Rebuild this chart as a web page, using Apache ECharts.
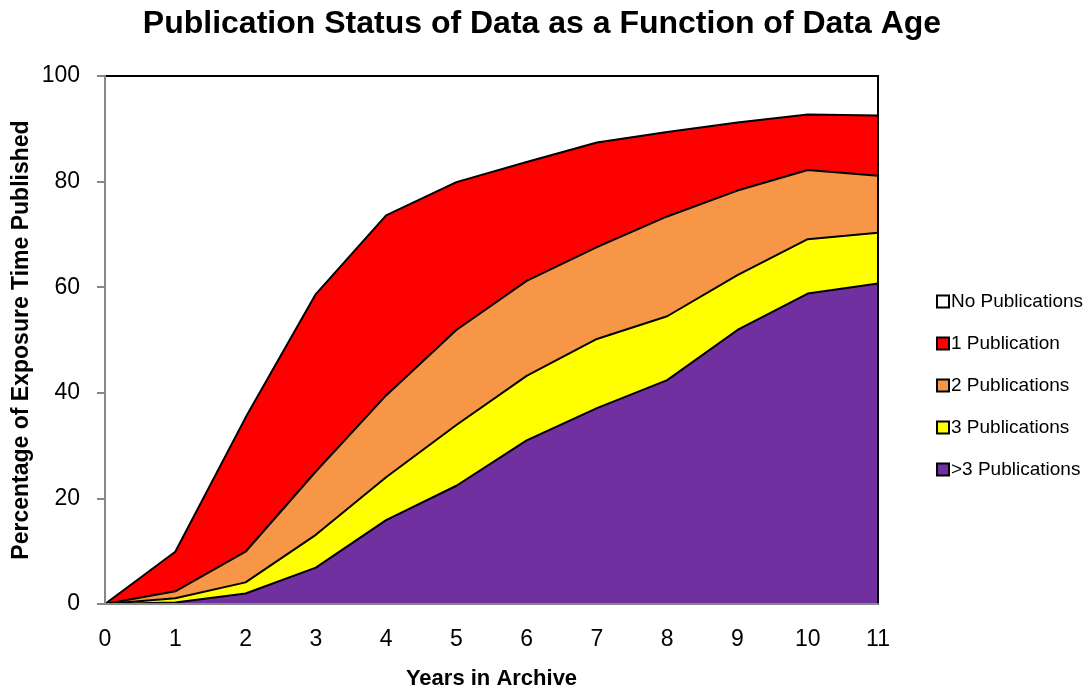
<!DOCTYPE html>
<html>
<head>
<meta charset="utf-8">
<script src="https://cdn.jsdelivr.net/npm/echarts@6/dist/echarts.min.js"></script>
<style>
html,body{margin:0;padding:0;background:#fff;}
#chart{width:1089px;height:688px;}
</style>
</head>
<body>
<div id="chart"></div>
<script>
var years = ['0','1','2','3','4','5','6','7','8','9','10','11'];
var moreThan3 = [0, 0.3, 2.0, 6.9, 15.9, 22.4, 31.0, 37.1, 42.4, 51.9, 58.8, 60.7];
var three     = [0, 0.8, 2.1, 6.2, 8.1, 11.5, 12.2, 13.1, 12.1, 10.4, 10.3, 9.6];
var two       = [0, 1.3, 5.8, 12.0, 15.5, 18.0, 18.0, 17.4, 18.9, 16.0, 13.1, 10.8];
var one       = [0, 7.5, 25.4, 33.6, 34.1, 28.0, 22.5, 19.8, 16.0, 12.9, 10.5, 11.4];
var none      = [100, 90.1, 64.7, 41.3, 26.4, 20.1, 16.3, 12.6, 10.6, 8.8, 7.3, 7.5];
var seriesNames = ['>3 Publications','3 Publications','2 Publications','1 Publication','No Publications'];
var legendOrder = ['No Publications','1 Publication','2 Publications','3 Publications','>3 Publications'];
var seriesColors = ['#7030A0','#FFFF00','#F79646','#FF0000','#FFFFFF'];
var seriesValues = [moreThan3, three, two, one, none];

var FONT = 'Liberation Sans';

var series = seriesValues.map(function(vals, i){
  var isNone = i === 4;
  return {
    name: seriesNames[i],
    type: 'line',
    stack: 'total',
    data: vals,
    symbol: 'none',
    showSymbol: false,
    smooth: false,
    z: 8 - i,
    lineStyle: { color: '#000', width: isNone ? 0 : 2, join: 'round' },
    areaStyle: { color: seriesColors[i], opacity: 1 },
    itemStyle: { color: seriesColors[i], borderColor: '#000', borderWidth: 1.5 }
  };
});

var chart = echarts.init(document.getElementById('chart'), null, {renderer:'canvas'});
chart.setOption({
  animation: false,
  backgroundColor: '#fff',
  title: {
    text: 'Publication Status of Data as a Function of Data Age',
    left: 537, top: 3, textAlign: 'center',
    textStyle: { fontFamily: FONT, fontWeight: 'bold', fontSize: 32, color: '#000' }
  },
  grid: {
    left: 105, right: 211, top: 76, bottom: 84,
    outerBoundsMode: 'none', containLabel: false,
    show: true, borderColor: '#000', borderWidth: 2, backgroundColor: 'transparent', z: 10
  },
  legend: {
    orient: 'vertical',
    left: 931, top: 287,
    data: legendOrder,
    icon: 'rect',
    itemWidth: 12, itemHeight: 12,
    itemGap: 23,
    textStyle: { fontFamily: FONT, fontSize: 19, color: '#000', padding: [0,0,0,-3] }
  },
  xAxis: {
    type: 'category', data: years, boundaryGap: false,
    name: 'Years in Archive', nameLocation: 'middle', nameGap: 64,
    nameTextStyle: { fontFamily: FONT, fontWeight: 'bold', fontSize: 22, color: '#000' },
    axisLine: { show: true, onZero: false, lineStyle: { color: '#888', width: 2 } },
    axisTick: { show: false },
    splitLine: { show: false },
    axisLabel: { fontFamily: FONT, fontSize: 23, color: '#000', margin: 24 },
    z: 11
  },
  yAxis: {
    type: 'value', min: 0, max: 100, interval: 20,
    name: 'Percentage of Exposure Time Published', nameLocation: 'middle', nameGap: 72,
    nameMoveOverlap: false,
    nameTextStyle: { fontFamily: FONT, fontWeight: 'bold', fontSize: 23, color: '#000' },
    axisLine: { show: true, lineStyle: { color: '#888', width: 2 } },
    axisTick: { show: true, length: 8, lineStyle: { color: '#888', width: 2 } },
    splitLine: { show: false },
    axisLabel: { fontFamily: FONT, fontSize: 23, color: '#000', margin: 25 },
    z: 11
  },
  series: series
});
</script>
</body>
</html>
